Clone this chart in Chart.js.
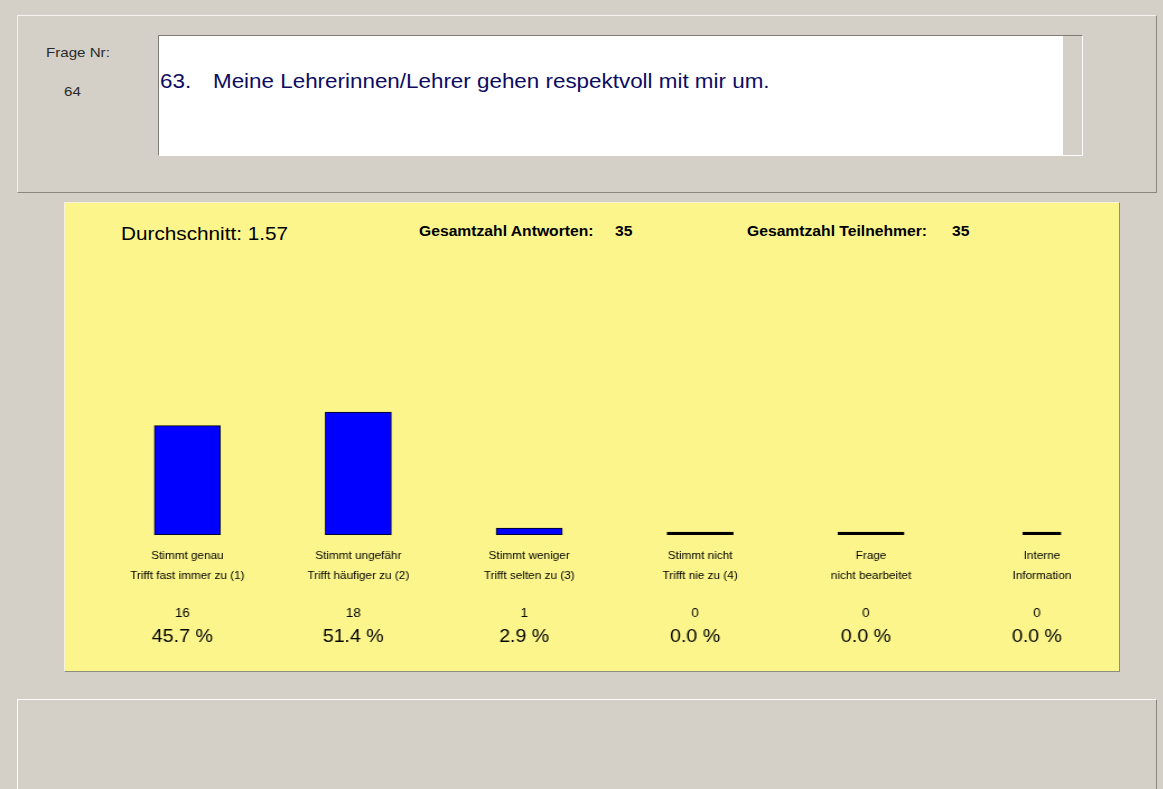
<!DOCTYPE html>
<html>
<head>
<meta charset="utf-8">
<script src="https://cdn.jsdelivr.net/npm/chart.js@4"></script>
<style>
  html, body { margin:0; padding:0; }
  body { width:1163px; height:789px; overflow:hidden; background:#D4D0C8; position:relative;
         font-family: Arial, "Liberation Sans", sans-serif; }
  .abs { position:absolute; box-sizing:border-box; }
  .txt { position:absolute; white-space:pre; transform-origin:0 0; transform:scaleX(1.12); }
  #topPanel { left:17px; top:15px; width:1140px; height:178px;
              border-top:1px solid #F4F3EF; border-left:1px solid #F4F3EF;
              border-right:1px solid #8A8780; border-bottom:1px solid #8A8780; }
  #textBox { left:158px; top:35px; width:925px; height:121px; background:#D4D0C8;
             border-top:1px solid #7C7A74; border-left:1px solid #7C7A74;
             border-right:1px solid #FFFFFF; border-bottom:1px solid #FFFFFF; }
  #textBoxWhite { left:159px; top:36px; width:904px; height:119px; background:#FFFFFF; }
  #yellow { left:64px; top:202px; width:1056px; height:470px; background:#FBF58B;
            border-top:1px solid #F6F2D8; border-left:1px solid #F6F2D8;
            border-right:1px solid #8F8C80; border-bottom:1px solid #8F8C80; }
  #bottomPanel { left:17px; top:699px; width:1140px; height:100px;
                 border-top:1px solid #FFFFFF; border-left:1px solid #FFFFFF;
                 border-right:1px solid #8A8780; }
  #chartWrap { position:absolute; left:0; top:0; width:1039px; height:789px;
               transform-origin:0 0; transform:scaleX(1.12); }
</style>
</head>
<body>
<div class="abs" id="topPanel"></div>
<div class="abs" id="textBox"></div>
<div class="abs" id="textBoxWhite"></div>
<div class="abs" id="yellow"></div>
<div class="abs" id="bottomPanel"></div>

<div class="txt" style="left:46px; top:46px; font-size:13.5px; line-height:13.5px; color:#2a2a2a;">Frage Nr:</div>
<div class="txt" style="left:64px; top:84.5px; font-size:13.5px; line-height:13.5px; color:#2a2a2a;">64</div>
<div class="txt" style="left:160px; top:70.5px; font-size:20px; line-height:20px; color:#0c0c62;">63.</div>
<div class="txt" style="left:213px; top:70.5px; font-size:20px; line-height:20px; color:#0c0c62;">Meine Lehrerinnen/Lehrer gehen respektvoll mit mir um.</div>

<div class="txt" style="left:121px; top:224.5px; font-size:18.5px; line-height:18.5px; color:#000;">Durchschnitt: 1.57</div>
<div class="txt" style="left:419px; top:223.6px; font-size:14px; line-height:14px; font-weight:bold; color:#000;">Gesamtzahl Antworten:</div>
<div class="txt" style="left:615px; top:223.6px; font-size:14px; line-height:14px; font-weight:bold; color:#000;">35</div>
<div class="txt" style="left:747px; top:223.6px; font-size:14px; line-height:14px; font-weight:bold; color:#000;">Gesamtzahl Teilnehmer:</div>
<div class="txt" style="left:952px; top:223.6px; font-size:14px; line-height:14px; font-weight:bold; color:#000;">35</div>

<div id="chartWrap"><canvas id="c" width="1039" height="789"></canvas></div>

<script>
// ---- data ----
const labelLine1 = ["Stimmt genau", "Stimmt ungefähr", "Stimmt weniger", "Stimmt nicht", "Frage", "Interne"];
const labelLine2 = ["Trifft fast immer zu (1)", "Trifft häufiger zu (2)", "Trifft selten zu (3)", "Trifft nie zu (4)", "nicht bearbeitet", "Information"];
const counts = [16, 18, 1, 0, 0, 0];
const percents = [45.7, 51.4, 2.9, 0.0, 0.0, 0.0];

const categories = labelLine1.map((l, i) => [l, labelLine2[i]]);
const lastIdx = counts.length - 1;
const mainData = counts.map((v, i) => i < lastIdx ? v : null);
const lastData = counts.map((v, i) => i === lastIdx ? v : null);

const barColor = ctx => (ctx.raw === 0 ? '#000000' : '#0000FF');

const valuePlugin = {
  id: 'valueLabels',
  afterDatasetsDraw(chart) {
    const ctx = chart.ctx;
    const xs = chart.scales.x;
    ctx.save();
    ctx.fillStyle = '#000';
    ctx.textAlign = 'center';
    ctx.textBaseline = 'alphabetic';
    counts.forEach((c, i) => {
      const x = xs.getPixelForValue(i) - 4.5;
      ctx.font = '12px Arial, "Liberation Sans", sans-serif';
      ctx.fillText(String(c), x, 617.3);
      ctx.font = '17.5px Arial, "Liberation Sans", sans-serif';
      ctx.fillText(percents[i].toFixed(1) + ' %', x, 641.5);
    });
    ctx.restore();
  }
};

new Chart(document.getElementById('c'), {
  type: 'bar',
  data: {
    labels: categories,
    datasets: [
      { data: mainData, grouped: false, barThickness: 59, backgroundColor: barColor,
        borderColor: '#000000', borderWidth: 1, borderSkipped: false, minBarLength: 3 },
      { data: lastData, grouped: false, barThickness: 34, backgroundColor: barColor,
        borderColor: '#000000', borderWidth: 1, borderSkipped: false, minBarLength: 3 }
    ]
  },
  options: {
    responsive: false,
    animation: false,
    devicePixelRatio: 1,
    layout: { padding: { left: 91, right: 32.4, top: 398.3, bottom: 0 } },
    plugins: { legend: { display: false }, title: { display: false }, tooltip: { enabled: false } },
    scales: {
      y: { display: false, min: 0, max: 20 },
      x: {
        grid: { display: false, drawTicks: false },
        border: { display: false },
        ticks: {
          color: '#000',
          padding: 11,
          maxRotation: 0,
          autoSkip: false,
          font: { family: 'Arial, "Liberation Sans", sans-serif', size: 10.5, lineHeight: '20px' }
        },
        afterFit: scale => { scale.height = 254; }
      }
    }
  },
  plugins: [valuePlugin]
});
</script>
</body>
</html>
